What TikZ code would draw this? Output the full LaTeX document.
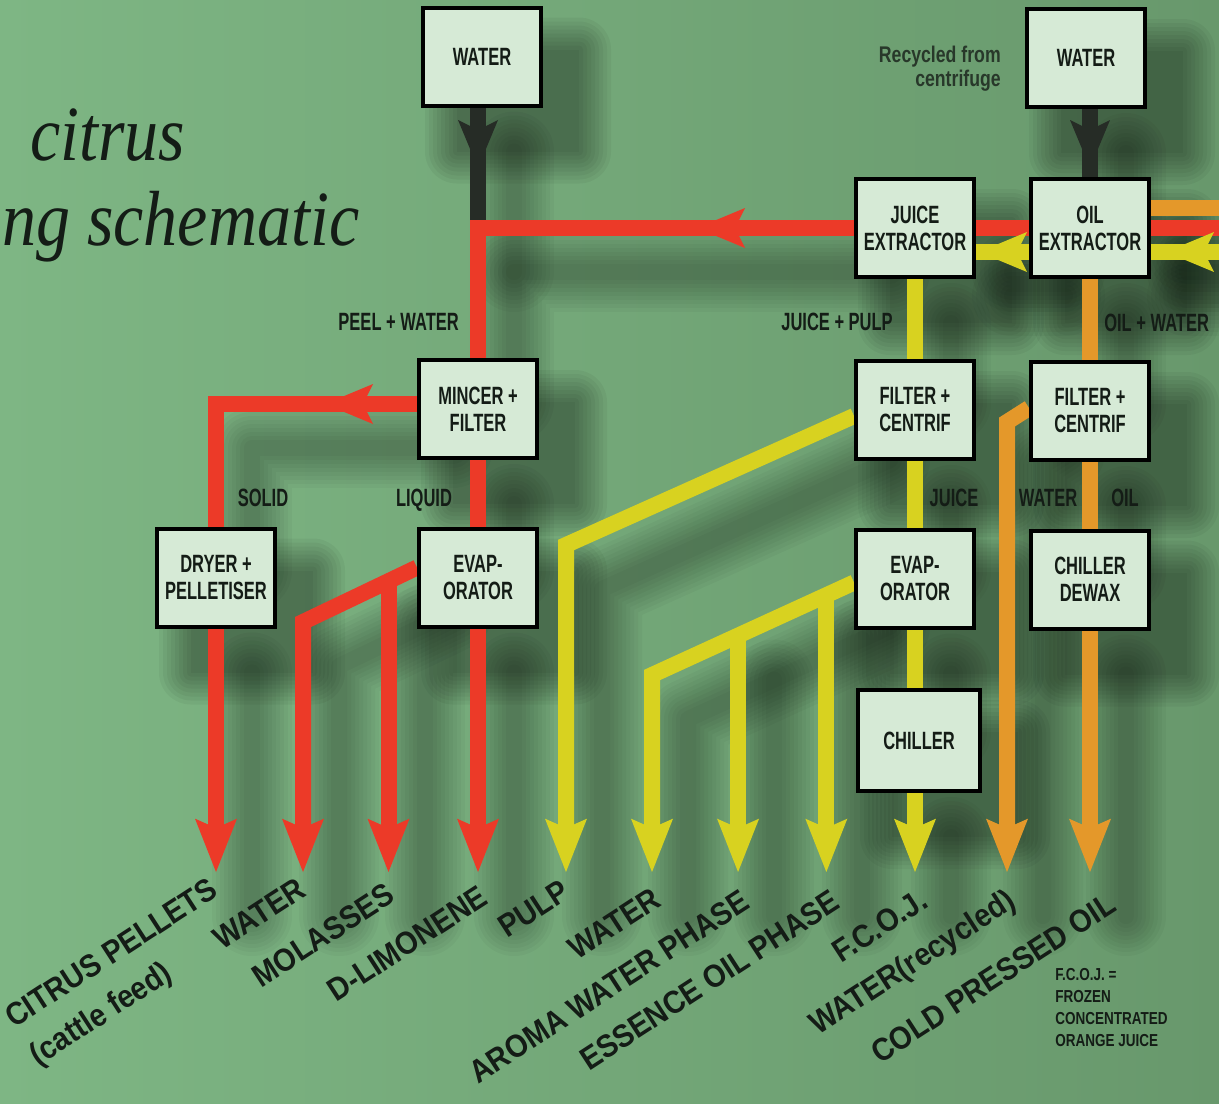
\documentclass[tikz,border=0pt]{standalone}
\usepackage{fontspec}
\usetikzlibrary{arrows.meta,calc}
\newfontfamily\cf{Liberation Sans}[FakeStretch=0.66]
\newfontfamily\lf{Liberation Sans}[FakeStretch=0.78]
\newfontfamily\outfont{Liberation Sans}[FakeStretch=0.9]
\newfontfamily\tf{Liberation Serif}
\definecolor{bgl}{RGB}{126,182,132}
\definecolor{bgr}{RGB}{104,152,108}
\definecolor{boxf}{RGB}{214,234,214}
\definecolor{cred}{RGB}{236,58,40}
\definecolor{cyel}{RGB}{216,210,32}
\definecolor{corg}{RGB}{228,152,42}
\definecolor{cblk}{RGB}{38,44,38}
\definecolor{ctxt}{RGB}{20,28,22}
\definecolor{ctxt2}{RGB}{40,56,42}
\pgfdeclarelayer{bg}
\pgfdeclarelayer{shadow}
\pgfdeclarelayer{flows}
\pgfsetlayers{bg,shadow,flows,main}
\tikzset{
 flowbase/.style={line width=12pt, line join=miter, miter limit=10},
 redl/.style={flowbase, draw=cred},
 yell/.style={flowbase, draw=cyel},
 orl/.style={flowbase, draw=corg},
 blkl/.style={flowbase, draw=cblk},
 chev/.style={-{Stealth[length=36pt 0 0,width=30pt 0 0,inset=7.5pt 0 0,line width=0pt 0 0]}},
 bigarr/.style={-{Stealth[length=40pt 0 0,width=31.5pt 0 0,inset=7pt 0 0,line width=0pt 0 0]}},
 box/.style={draw=black, line width=3pt, fill=boxf, minimum width=88.5pt, minimum height=73.5pt,
   inner sep=0pt, align=center, text=ctxt, font=\cf\bfseries\fontsize{18.75pt}{20.25pt}\selectfont},
 lbl/.style={inner sep=0pt, text=ctxt, font=\cf\bfseries\fontsize{18.75pt}{20.25pt}\selectfont},
 outl/.style={inner sep=0pt, text=ctxt, rotate=33, anchor=base east, font=\outfont\bfseries\fontsize{24pt}{27pt}\selectfont},
 ttl/.style={inner sep=0pt, anchor=base west, text=ctxt, yscale=1.15, font=\tf\itshape\fontsize{51pt}{60pt}\selectfont},
}
\newcommand{\allflows}{%
 \draw[blkl] (bk1 |- w1.south) -- (bk1 |- jex.west);
 \draw[blkl,chev] (bk1 |- w1.south) -- (bk1);
 \draw[blkl] (bk2 |- w2.south) -- (oex.north);
 \draw[blkl,chev] (bk2 |- w2.south) -- (bk2);
 \draw[orl] (orin) -- (orin -| oex.east);
 \draw[redl] (redin) -- (oex.east);
 \draw[redl] (oex.west) -- (jex.east);
 \draw[redl] (jex.west) -| (mf.north);
 \draw[redl,chev] (jex.west) -- (ra1);
 \draw[redl] (ma) -| (dry.north);
 \draw[redl,chev] (ma) -- (ra2);
 \draw[redl] (mf.south) -- (eva.north);
 \draw[redl,bigarr] (dry.south) -- (dry.south |- bot);
 \draw[redl,bigarr] (eva.south) -- (eva.south |- bot);
 \draw[redl,bigarr] (ea) -- (rc) -- (rc |- bot);
 \draw[redl,bigarr] (rb) -- (rb |- bot);
 \draw[yell] (yin) -- (yin -| oex.east);
 \draw[yell,chev] (yin) -- (ya);
 \draw[yell] (yb -| oex.west) -- (yb -| jex.east);
 \draw[yell,chev] (yb -| oex.west) -- (yt);
 \draw[yell] (jex.south) -- (fcj.north);
 \draw[yell] (fcj.south) -- (evj.north);
 \draw[yell] (evj.south) -- (chl.north -| evj.south);
 \draw[yell,bigarr] (chl.south -| evj.south) -- (evj.south |- bot);
 \draw[yell,bigarr] (pa) -- (yc1) -- (yc1 |- bot);
 \draw[yell,bigarr] (ja) -- (yc2) -- (yc2 |- bot);
 \draw[yell,bigarr] (yb1) -- (yb1 |- bot);
 \draw[yell,bigarr] (yb2) -- (yb2 |- bot);
 \draw[orl] (oex.south) -- (fco.north);
 \draw[orl] (fco.south) -- (chd.north);
 \draw[orl,bigarr] (chd.south) -- (chd.south |- bot);
 \draw[orl,bigarr] (fa) -- (oc) -- (oc |- bot);
}
\begin{document}
\begin{tikzpicture}[x=0.75pt,y=-0.75pt]
\useasboundingbox (0,0) rectangle (1219,1103);
\begin{pgfonlayer}{bg}
\shade[left color=bgl, right color=bgr] (0,0) rectangle (1219,1103);
\end{pgfonlayer}
% title
\node[ttl] (ti1) at (30,160) {citrus};
\node[ttl] (ti2) at (2,245) {ng schematic};
% boxes
\node[box] (w1) at (482,56.5) {WATER};
\node[box] (w2) at (1086,58) {WATER};
\node[box] (jex) at (915,228) {JUICE\\EXTRACTOR};
\node[box] (oex) at (1090,228) {OIL\\EXTRACTOR};
\node[box] (mf) at (478,409) {MINCER +\\FILTER};
\node[box] (fcj) at (915,410) {FILTER +\\CENTRIF};
\node[box] (fco) at (1090,411) {FILTER +\\CENTRIF};
\node[box] (dry) at (216,577.5) {DRYER +\\PELLETISER};
\node[box] (eva) at (478,577.5) {EVAP-\\ORATOR};
\node[box] (evj) at (915,578.5) {EVAP-\\ORATOR};
\node[box] (chd) at (1090,579.5) {CHILLER\\DEWAX};
\node[box, minimum width=91.5pt, minimum height=75.75pt] (chl) at (919,740.5) {CHILLER};
% coordinates
\coordinate (bot) at (0,872);
\coordinate (bk1) at (478,168);
\coordinate (bk2) at (1090,168);
\coordinate (redin) at (1219,228);
\coordinate (orin) at (1219,208);
\coordinate (yin) at (1219,252);
\coordinate (ya) at (1166,252);
\coordinate (yb) at (0,252);
\coordinate (yt) at (979,252);
\coordinate (ra1) at (697,228);
\coordinate (ma) at ($(mf.west)+(0,-5)$);
\coordinate (ra2) at (325,404);
\coordinate (ea) at ($(eva.west)+(0,-10)$);
\coordinate (rc) at (303,622);
\coordinate (rb) at ($(ea)!0.25!(rc)$);
\coordinate (fa) at ($(fco.west)+(0,-3)$);
\coordinate (oc) at (1007,422);
\coordinate (pa) at ($(fcj.west)+(0,6)$);
\coordinate (yc1) at (566,545);
\coordinate (ja) at ($(evj.west)+(0,4)$);
\coordinate (yc2) at (652,675);
\coordinate (yb1) at ($(ja)!0.574!(yc2)$);
\coordinate (yb2) at ($(ja)!0.137!(yc2)$);
% soft shadows
\begin{pgfonlayer}{shadow}
\begin{scope}[transform canvas={shift={(36,44)}}]
\foreach \e in {32,28,24,20,16,12,8,4,0}{
  \pgfmathsetmacro\lw{12+1.5*\e}
  \pgfmathsetmacro\rc{0.75*\e}
  \foreach \n in {w1,w2,jex,oex,mf,fcj,fco,dry,eva,evj,chd,chl}{
    \fill[black,opacity=0.045,rounded corners=\rc pt] ($(\n.north west)+(-\e,-\e)$) rectangle ($(\n.south east)+(\e,\e)$);
  }
  \begin{scope}[flowbase/.style={line width=\lw pt, opacity=0.03, line join=round, line cap=round},
     redl/.style={flowbase,draw=black}, yell/.style={flowbase,draw=black},
     orl/.style={flowbase,draw=black}, blkl/.style={flowbase,draw=black},
     chev/.style={draw=none}, bigarr/.style={}]
    \allflows
  \end{scope}
}
\end{scope}
\end{pgfonlayer}
% flows
\begin{pgfonlayer}{flows}
\allflows
\end{pgfonlayer}
% labels
\node[lbl, anchor=base east] (lpw) at (459,330) {PEEL + WATER};
\node[lbl, anchor=base east] (ljp) at (893,330) {JUICE + PULP};
\node[lbl, anchor=base west] (low) at (1104,331) {OIL + WATER};
\node[lbl, anchor=base] (lso) at (263,506) {SOLID};
\node[lbl, anchor=base] (lli) at (424,506) {LIQUID};
\node[lbl, anchor=base] (lju) at (954,506) {JUICE};
\node[lbl, anchor=base] (lwa) at (1048,506) {WATER};
\node[lbl, anchor=base] (loi) at (1125,506) {OIL};
\node[inner sep=0pt, anchor=north east, align=right, text=ctxt2, font=\lf\bfseries\fontsize{17pt}{18pt}\selectfont] (rec) at (1001,46) {Recycled from\\centrifuge};
\node[inner sep=0pt, anchor=north west, align=left, text=ctxt, font=\lf\bfseries\fontsize{13pt}{16.5pt}\selectfont] (note) at (1055,968) {F.C.O.J. =\\FROZEN\\CONCENTRATED\\ORANGE JUICE};
% outputs
\node[outl] (o1) at (220,895) {CITRUS PELLETS};
\node[outl, anchor=base west] (o1b) at ($(o1.base west)+(24,38)$) {(cattle feed)};
\node[outl] (o2) at (308,895) {WATER};
\node[outl] (o3) at (397,900) {MOLASSES};
\node[outl] (o4) at (490,903) {D-LIMONENE};
\node[outl] (o5) at (572,897) {PULP};
\node[outl] (o6) at (663,905) {WATER};
\node[outl] (o7) at (752,907) {AROMA WATER PHASE};
\node[outl] (o8) at (842,907) {ESSENCE OIL PHASE};
\node[outl] (o9) at (930,906) {F.C.O.J.};
\node[outl] (o10) at (1018,906) {WATER(recycled)};
\node[outl] (o11) at (1118,910) {COLD PRESSED OIL};
\end{tikzpicture}
\end{document}
